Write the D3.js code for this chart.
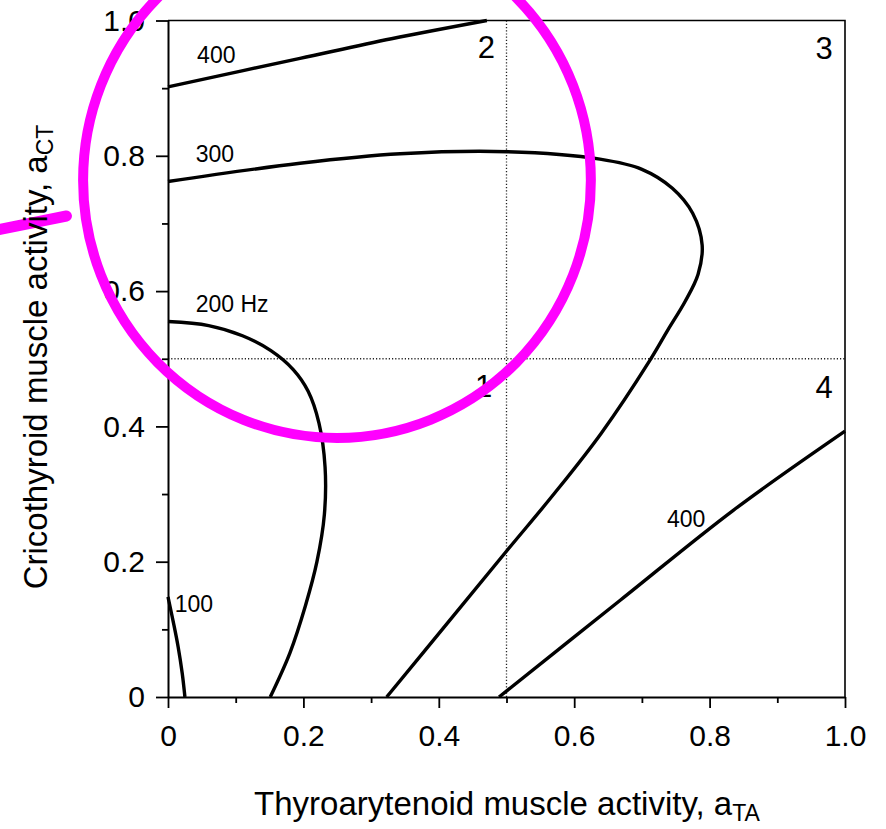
<!DOCTYPE html>
<html>
<head>
<meta charset="utf-8">
<script src="https://cdn.jsdelivr.net/npm/d3@7"></script>
<style>
  body { margin: 0; background: #fff; }
  svg { display: block; font-family: "Liberation Sans", Arial, Helvetica, sans-serif; }
</style>
</head>
<body>
<div class="chart"></div>
<script>
// contour lines of constant F0, points as [aTA, aCT]
var c400top = [[0, 0.902], [0.195, 0.944], [0.33, 0.973], [0.471, 1.0]];
var c300 = [[0, 0.762], [0.195, 0.789], [0.343, 0.803], [0.502, 0.806], [0.638, 0.795],
  [0.700, 0.780], [0.745, 0.752], [0.775, 0.715], [0.789, 0.668], [0.783, 0.625],
  [0.764, 0.585], [0.738, 0.542], [0.712, 0.498], [0.64, 0.39], [0.57, 0.30],
  [0.502, 0.218], [0.42, 0.118], [0.323, 0]];
var c200 = [[0, 0.555], [0.06, 0.549], [0.11, 0.534], [0.152, 0.512], [0.185, 0.484],
  [0.207, 0.452], [0.223, 0.405], [0.232, 0.340], [0.231, 0.270], [0.220, 0.200],
  [0.203, 0.135], [0.180, 0.065], [0.151, 0]];
var c100 = [[0, 0.148], [0.008, 0.11], [0.015, 0.074], [0.021, 0.035], [0.025, 0]];
var c400right = [[0.489, 0], [0.668, 0.143], [0.835, 0.276], [1.0, 0.393]];

var contours = [c400top, c300, c200, c100, c400right];

// contour labels: [text, aTA, aCT]
var contourLabels = [["400", 0.043, 0.937], ["300", 0.041, 0.791], ["200 Hz", 0.041, 0.569],
  ["100", 0.010, 0.126], ["400", 0.737, 0.251]];

// quadrant numbers, right-aligned
var regionLabels = [["1", 0.479, 0.443], ["2", 0.483, 0.945], ["3", 0.982, 0.943], ["4", 0.982, 0.442]];

var majorTicks = [0, 0.2, 0.4, 0.6, 0.8, 1.0];
var minorTicks = [0.1, 0.3, 0.5, 0.7, 0.9];

var svgWidth = 886;
var svgHeight = 829;
var margin = { top: 20.5, right: 41, bottom: 132, left: 168 };
var width = svgWidth - margin.left - margin.right;
var height = svgHeight - margin.top - margin.bottom;

var svg = d3.select(".chart")
  .append("svg")
  .attr("width", svgWidth)
  .attr("height", svgHeight);

var chartGroup = svg.append("g")
  .attr("transform", `translate(${margin.left}, ${margin.top})`);

var xScale = d3.scaleLinear().domain([0, 1]).range([0, width]);
var yScale = d3.scaleLinear().domain([0, 1]).range([height, 0]);

var fmt = d => d === 0 ? "0" : d3.format(".1f")(d);

// dotted dividers at 0.5
chartGroup.append("line")
  .attr("x1", xScale(0.5)).attr("x2", xScale(0.5))
  .attr("y1", yScale(0)).attr("y2", yScale(1))
  .attr("stroke", "#222").attr("stroke-width", 1.3).attr("stroke-dasharray", "1.2,2");
chartGroup.append("line")
  .attr("x1", xScale(0)).attr("x2", xScale(1))
  .attr("y1", yScale(0.5)).attr("y2", yScale(0.5))
  .attr("stroke", "#222").attr("stroke-width", 1.3).attr("stroke-dasharray", "1.2,2");

// frame top and right
chartGroup.append("path")
  .attr("d", `M0,0H${width}V${height}`)
  .attr("fill", "none").attr("stroke", "#000").attr("stroke-width", 1.6);

// minor ticks
chartGroup.append("g")
  .attr("transform", `translate(0, ${height})`)
  .call(d3.axisBottom(xScale).tickValues(minorTicks).tickSize(6).tickFormat("").tickSizeOuter(0))
  .call(g => g.select(".domain").remove());
chartGroup.append("g")
  .call(d3.axisLeft(yScale).tickValues(minorTicks).tickSize(6).tickFormat("").tickSizeOuter(0))
  .call(g => g.select(".domain").remove());

// major axes
var xAxis = chartGroup.append("g")
  .attr("transform", `translate(0, ${height})`)
  .call(d3.axisBottom(xScale).tickValues(majorTicks).tickSize(11).tickPadding(17)
    .tickFormat(fmt).tickSizeOuter(0));
var yAxis = chartGroup.append("g")
  .call(d3.axisLeft(yScale).tickValues(majorTicks).tickSize(12).tickPadding(11)
    .tickFormat(fmt).tickSizeOuter(0));

[xAxis, yAxis].forEach(function(ax) {
  ax.selectAll("text")
    .attr("font-size", 30)
    .attr("font-family", "'Liberation Sans', Arial, sans-serif")
    .attr("fill", "#000");
  ax.select(".domain").attr("stroke-width", 2).attr("stroke", "#000");
});
chartGroup.selectAll(".tick line").attr("stroke", "#000").attr("stroke-width", 1.8);

// contours
var line = d3.line()
  .x(d => xScale(d[0]))
  .y(d => yScale(d[1]))
  .curve(d3.curveCatmullRom.alpha(0.5));

chartGroup.selectAll(".contour")
  .data(contours)
  .enter()
  .append("path")
  .attr("class", "contour")
  .attr("d", line)
  .attr("fill", "none")
  .attr("stroke", "#000")
  .attr("stroke-width", 3.4)
  .attr("stroke-linejoin", "round");

chartGroup.selectAll(".clabel")
  .data(contourLabels)
  .enter()
  .append("text")
  .attr("class", "clabel")
  .attr("x", d => xScale(d[1]))
  .attr("y", d => yScale(d[2]))
  .attr("font-size", 23)
  .text(d => d[0]);

chartGroup.selectAll(".rlabel")
  .data(regionLabels)
  .enter()
  .append("text")
  .attr("class", "rlabel")
  .attr("x", d => xScale(d[1]))
  .attr("y", d => yScale(d[2]))
  .attr("text-anchor", "end")
  .attr("font-size", 31)
  .text(d => d[0]);

// axis titles
var xTitle = svg.append("text")
  .attr("x", 507)
  .attr("y", 815)
  .attr("text-anchor", "middle")
  .attr("font-size", 33);
xTitle.append("tspan").text("Thyroarytenoid muscle activity, a");
xTitle.append("tspan").attr("font-size", 23).attr("dy", 6).text("TA");

var yTitle = svg.append("text")
  .attr("transform", "translate(47, 357) rotate(-90)")
  .attr("text-anchor", "middle")
  .attr("font-size", 33);
yTitle.append("tspan").text("Cricothyroid muscle activity, a");
yTitle.append("tspan").attr("font-size", 23).attr("dy", 6).text("CT");

// magenta hand-drawn annotation
chartGroup.append("ellipse")
  .attr("cx", xScale(0.2496))
  .attr("cy", yScale(0.764))
  .attr("rx", xScale(0.375) - xScale(0))
  .attr("ry", yScale(0) - yScale(0.381))
  .attr("fill", "none")
  .attr("stroke", "#ff00ff")
  .attr("stroke-width", 10);

chartGroup.append("line")
  .attr("x1", xScale(-0.26)).attr("y1", yScale(0.689))
  .attr("x2", xScale(-0.150)).attr("y2", yScale(0.711))
  .attr("stroke", "#ff00ff")
  .attr("stroke-width", 11)
  .attr("stroke-linecap", "round");
</script>
</body>
</html>
